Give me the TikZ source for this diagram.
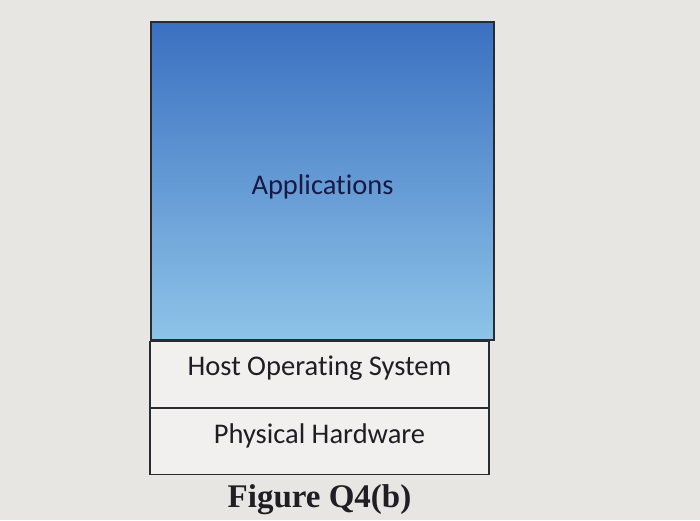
\documentclass[tikz,border=0pt]{standalone}
\usepackage{fontspec}
\setmainfont{Carlito}[Ligatures=NoCommon]
\newfontfamily\capfont{Liberation Serif}
\usetikzlibrary{positioning}
\definecolor{paper}{RGB}{232,230,226}
\definecolor{apptop}{RGB}{58,112,192}
\definecolor{appbot}{RGB}{142,196,232}
\definecolor{boxline}{RGB}{40,44,52}
\definecolor{inkcol}{RGB}{30,30,36}

\begin{document}
\begin{tikzpicture}[x=1pt,y=-1pt,
  layer/.style={draw=boxline,line width=1.2pt,fill=paper!60!white,
    minimum width=339pt,minimum height=66pt,inner sep=0pt},
  apps/.style={draw=boxline,line width=1.4pt,top color=apptop,bottom color=appbot,
    minimum width=343pt,minimum height=318pt,inner sep=0pt},
  label/.style={text=inkcol,font=\fontsize{28.5}{32}\selectfont},
  caption/.style={text=inkcol,font=\capfont\bfseries\fontsize{33}{36}\selectfont}]
\fill[paper] (0,0) rectangle (700,520);
\useasboundingbox (0,0) rectangle (700,520);
% the stack
\node[layer] (hw) at (319.5,441.5) {};
\node[layer,above=0pt of hw] (os) {};
\node[apps,above=0pt of os,xshift=3pt] (app) {};
\node[label] (ostext) at ([yshift=6pt]os.center) {Host Operating System};
\node[label] (hwtext) at ([yshift=6pt]hw.center) {Physical Hardware};
\node[label,text=inkcol!85!blue] (apptext) at ([yshift=-6pt]app.center) {Applications};
% caption
\node[caption,below=6pt of hw] (cap) {Figure Q4(b)};
\end{tikzpicture}
\end{document}
